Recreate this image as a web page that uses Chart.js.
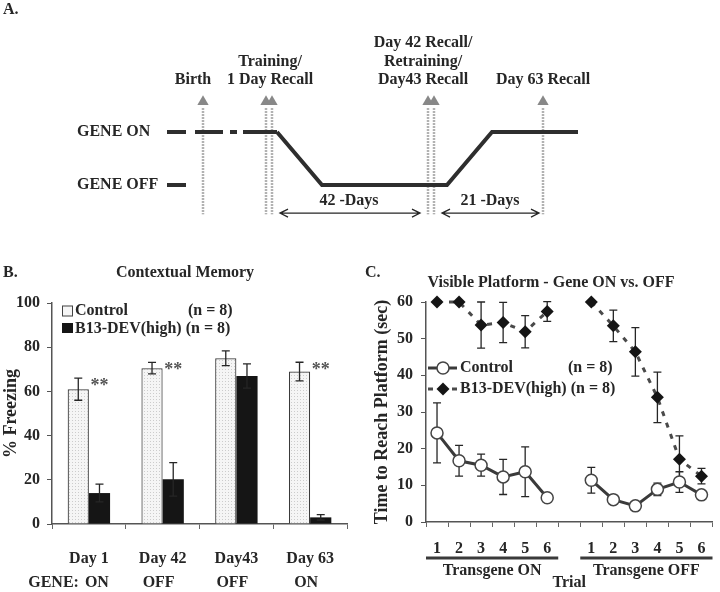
<!DOCTYPE html>
<html>
<head>
<meta charset="utf-8">
<script src="https://cdn.jsdelivr.net/npm/chart.js@4"></script>
<style>
  body { margin: 0; background: #fff; width: 720px; height: 592px; position: relative; overflow: hidden; }
  canvas { position: absolute; }
  #chartA { left: 0; top: 0; }
  #chartB { left: 0; top: 240px; }
  #chartC { left: 360px; top: 240px; }
</style>
</head>
<body>
<canvas id="chartA" width="720" height="240"></canvas>
<canvas id="chartB" width="360" height="352"></canvas>
<canvas id="chartC" width="360" height="352"></canvas>
<script>
// Figure: A. experiment timeline, B. contextual memory, C. visible platform

/* ---- Panel A data (schematic time course, arbitrary position units) ---- */
const geneLevels = ["GENE OFF", "GENE ON"];          // y = 0 / 1
const geneLineX = [110, 155, 280, 325, 411];
const geneLineY = [1, 0, 0, 1, 1];
const geneDashes = [[0, 19], [28, 56], [63, 70], [76, 110]];   // ON before training
const offDash = [[0, 19]];
const eventX = [36, 99, 105, 261, 267, 376];
const eventLabelX = [26, 103, 256, 376];
const eventLabelText = [
  ["Birth"],
  ["Training/", "1 Day Recall"],
  ["Day 42 Recall/", "Retraining/", "Day43 Recall"],
  ["Day 63 Recall"]
];
const intervalFrom = [113, 275];
const intervalTo = [253, 372];
const intervalLabels = ["42 -Days", "21 -Days"];
const intervalLabelX = [182, 323];

/* ---- Panel B data ---- */
const dayLabels = ["Day 1", "Day 42", "Day43", "Day 63"];
const geneState = ["ON", "OFF", "OFF", "ON"];
const controlFreeze = [61, 70.5, 75, 69];
const controlFreezeErr = [5, 2.6, 3.3, 4.2];
const b13Freeze = [14, 20.2, 67, 3];
const b13FreezeErr = [4, 7.6, 5.5, 1.2];
const freezeSig = ["**", "**", "", "**"];

/* ---- Panel C data ---- */
const trialLabels = ["1", "2", "3", "4", "5", "6", "", "1", "2", "3", "4", "5", "6"];
const trialGroups = ["Transgene ON", "Transgene OFF"];
const controlTimeOn = [24.3, 16.7, 15.5, 12.3, 13.7, 6.6];
const controlTimeOff = [11.4, 6.1, 4.4, 8.9, 10.9, 7.4];
const controlErrOn = [8.2, 4.2, 3.0, 4.8, 6.8, 1.0];
const controlErrOff = [3.5, 0.7, 0.8, 1.7, 2.8, 0.8];
const b13TimeOn = [60, 60, 53.7, 54.4, 51.9, 57.4];
const b13TimeOff = [60, 53.5, 46.4, 34, 17.1, 12.5];
const b13ErrOn = [0, 0, 6.3, 5.5, 4.4, 2.7];
const b13ErrOff = [0, 4.3, 6.6, 6.9, 6.4, 2.1];

const serif = '"Liberation Serif", "Times New Roman", serif';
const ink = "#262626";
Chart.defaults.font.family = serif;
Chart.defaults.font.weight = "bold";
Chart.defaults.font.size = 16;
Chart.defaults.color = ink;
Chart.defaults.animation = false;
Chart.defaults.plugins.legend.display = false;
Chart.defaults.plugins.tooltip.enabled = false;

function txt(ctx, s, x, y, align, size) {
  ctx.font = "bold " + (size || 16) + "px " + serif;
  ctx.textAlign = align || "center";
  ctx.textBaseline = "middle";
  ctx.fillText(s, x, y);
}

/* ================= Panel A ================= */
function segments(pairs, y) {
  const pts = [];
  pairs.forEach(([a, b]) => pts.push({ x: a, y }, { x: b, y }, { x: b, y: null }));
  return pts;
}
const eventTop = 1.45, eventBottom = -0.55, markY = 1.57;
const labelRowY = 1.98, arrowY = -0.53, intervalTextY = -0.29;

const timelineText = {
  id: "timelineText",
  afterDraw(chart) {
    const ctx = chart.ctx, xs = chart.scales.x, ys = chart.scales.y;
    ctx.save();
    ctx.fillStyle = ink;
    txt(ctx, "A.", 3, 10, "left");
    eventLabelText.forEach((lines, i) => {
      const px = xs.getPixelForValue(eventLabelX[i]);
      const base = ys.getPixelForValue(labelRowY);
      lines.forEach((t, j) => txt(ctx, t, px, base - (lines.length - 1 - j) * 18.5));
    });
    // interval arrows
    ctx.strokeStyle = ink;
    ctx.lineWidth = 1.3;
    const ay = ys.getPixelForValue(arrowY);
    intervalFrom.forEach((a, i) => {
      const x1 = xs.getPixelForValue(a), x2 = xs.getPixelForValue(intervalTo[i]);
      ctx.beginPath();
      ctx.moveTo(x1, ay); ctx.lineTo(x2, ay);
      ctx.moveTo(x1 + 8, ay - 4); ctx.lineTo(x1, ay); ctx.lineTo(x1 + 8, ay + 4);
      ctx.moveTo(x2 - 8, ay - 4); ctx.lineTo(x2, ay); ctx.lineTo(x2 - 8, ay + 4);
      ctx.stroke();
      txt(ctx, intervalLabels[i], xs.getPixelForValue(intervalLabelX[i]), ys.getPixelForValue(intervalTextY));
    });
    ctx.restore();
  }
};

new Chart(document.getElementById("chartA"), {
  type: "line",
  data: {
    datasets: [
      {
        data: geneLineX.map((x, i) => ({ x, y: geneLineY[i] })),
        borderColor: "#2e2e2e", borderWidth: 4, pointRadius: 0, clip: false
      },
      {
        data: segments(geneDashes, 1),
        borderColor: "#2e2e2e", borderWidth: 4, pointRadius: 0, spanGaps: false, clip: false
      },
      {
        data: segments(offDash, 0),
        borderColor: "#2e2e2e", borderWidth: 4, pointRadius: 0, clip: false
      },
      {
        data: eventX.map(x => ({ x, y: markY })),
        showLine: false, pointStyle: "triangle", pointRadius: 6.5,
        pointBackgroundColor: "#888", pointBorderWidth: 0, clip: false
      },
      {
        data: eventX.flatMap(x => [{ x, y: eventTop }, { x, y: eventBottom }, { x, y: null }]),
        borderColor: "#999", borderWidth: 2.5, borderDash: [1.5, 1.5],
        pointRadius: 0, spanGaps: false, clip: false
      }
    ]
  },
  options: {
    responsive: false,
    layout: { padding: { left: 77, right: 120, top: 26, bottom: 5 } },
    scales: {
      x: { type: "linear", min: 0, max: 433, display: false },
      y: {
        min: -0.8, max: 3,
        grid: { display: false },
        border: { display: false },
        afterBuildTicks: s => { s.ticks = [{ value: 0 }, { value: 1 }]; },
        afterFit: s => { s.width = 90; },
        ticks: { crossAlign: "far", callback: v => geneLevels[v], font: { size: 16 } }
      }
    }
  },
  plugins: [timelineText]
});

/* ================= Panel B ================= */
function stipple() {
  const c = document.createElement("canvas");
  c.width = 3; c.height = 3;
  const g = c.getContext("2d");
  g.fillStyle = "#f5f5f5"; g.fillRect(0, 0, 3, 3);
  g.fillStyle = "#cccccc"; g.fillRect(0, 0, 1, 1);
  return g.createPattern(c, "repeat");
}

const freezeExtras = {
  id: "freezeExtras",
  afterDatasetsDraw(chart) {
    const ctx = chart.ctx, ys = chart.scales.y, xs = chart.scales.x, area = chart.chartArea;
    const vals = [controlFreeze, b13Freeze], errs = [controlFreezeErr, b13FreezeErr];
    ctx.save();
    ctx.strokeStyle = ink;
    ctx.lineWidth = 1.3;
    [0, 1].forEach(d => {
      chart.getDatasetMeta(d).data.forEach((bar, i) => {
        const t = ys.getPixelForValue(vals[d][i] + errs[d][i]);
        const b = ys.getPixelForValue(vals[d][i] - errs[d][i]);
        ctx.beginPath();
        ctx.moveTo(bar.x, t); ctx.lineTo(bar.x, b);
        ctx.moveTo(bar.x - 4, t); ctx.lineTo(bar.x + 4, t);
        ctx.moveTo(bar.x - 4, b); ctx.lineTo(bar.x + 4, b);
        ctx.stroke();
      });
    });
    // significance stars above the B13 bars
    ctx.fillStyle = "#555";
    chart.getDatasetMeta(1).data.forEach((bar, i) => {
      if (!freezeSig[i]) return;
      const y = ys.getPixelForValue(controlFreeze[i] + controlFreezeErr[i]);
      ctx.font = "bold 18px " + serif;
      ctx.textAlign = "center";
      ctx.textBaseline = "alphabetic";
      ctx.fillText(freezeSig[i], bar.x, y + 13);
    });
    ctx.fillStyle = ink;
    txt(ctx, "B.", 3, 33, "left");
    txt(ctx, "Contextual Memory", 185, 33);
    // legend
    const lx = area.left + 10;
    ctx.fillStyle = "#f6f6f6"; ctx.strokeStyle = "#444"; ctx.lineWidth = 1;
    ctx.fillRect(lx, area.top + 2.5, 11, 11);
    ctx.strokeRect(lx + 0.5, area.top + 3, 10, 10);
    ctx.fillStyle = "#151515";
    ctx.fillRect(lx, area.top + 20, 11, 10);
    ctx.fillStyle = ink;
    txt(ctx, "Control", lx + 13, area.top + 8, "left");
    txt(ctx, "(n = 8)", lx + 126, area.top + 8, "left");
    txt(ctx, "B13-DEV(high) (n = 8)", lx + 13, area.top + 26, "left");
    // gene state row
    const rowY = area.bottom + 59;
    geneState.forEach((s, i) => txt(ctx, s, xs.getPixelForValue(i) + (i === 0 ? 8 : -4), rowY));
    const onLeft = xs.getPixelForValue(0) + 8 - ctx.measureText(geneState[0]).width / 2;
    txt(ctx, "GENE:", onLeft - 6, rowY, "right", 16);
    ctx.restore();
  }
};

new Chart(document.getElementById("chartB"), {
  type: "bar",
  data: {
    labels: dayLabels,
    datasets: [
      {
        label: "Control (n = 8)", data: controlFreeze,
        backgroundColor: stipple(), borderColor: "#3a3a3a", borderWidth: 1.2,
        categoryPercentage: 0.575, barPercentage: 1
      },
      {
        label: "B13-DEV(high) (n = 8)", data: b13Freeze,
        backgroundColor: "#151515", borderWidth: 0,
        categoryPercentage: 0.575, barPercentage: 1
      }
    ]
  },
  options: {
    responsive: false,
    layout: { padding: { left: 0, right: 13, top: 63, bottom: 0 } },
    scales: {
      x: {
        grid: { display: true, drawOnChartArea: false, tickLength: 5, color: "#666" },
        border: { color: "#555", width: 1.5 },
        afterFit: s => { s.height = 68; },
        ticks: { padding: 20, font: { size: 16 } }
      },
      y: {
        min: 0, max: 100,
        grid: { display: true, drawOnChartArea: false, tickLength: 5, color: "#555" },
        border: { color: "#555", width: 1.5 },
        afterFit: s => { s.width = 52; },
        ticks: { stepSize: 20, padding: 7, font: { size: 16 } },
        title: { display: true, text: "% Freezing", font: { size: 18 }, padding: { top: 1 } }
      }
    }
  },
  plugins: [freezeExtras]
});

/* ================= Panel C ================= */
const gap = [null];
const controlTime = controlTimeOn.concat(gap, controlTimeOff);
const controlErr = controlErrOn.concat(gap, controlErrOff);
const b13Time = b13TimeOn.concat(gap, b13TimeOff);
const b13Err = b13ErrOn.concat(gap, b13ErrOff);
const trialGroupRange = [[0, 5], [7, 12]];

const platformExtras = {
  id: "platformExtras",
  beforeDatasetsDraw(chart) {
    const ctx = chart.ctx, ys = chart.scales.y;
    const vals = [controlTime, b13Time], errs = [controlErr, b13Err];
    ctx.save();
    ctx.strokeStyle = ink;
    ctx.lineWidth = 1.3;
    [0, 1].forEach(d => {
      chart.getDatasetMeta(d).data.forEach((pt, i) => {
        if (vals[d][i] == null || !errs[d][i]) return;
        const t = ys.getPixelForValue(vals[d][i] + errs[d][i]);
        const b = ys.getPixelForValue(vals[d][i] - errs[d][i]);
        ctx.beginPath();
        ctx.moveTo(pt.x, t); ctx.lineTo(pt.x, b);
        ctx.moveTo(pt.x - 4, t); ctx.lineTo(pt.x + 4, t);
        ctx.moveTo(pt.x - 4, b); ctx.lineTo(pt.x + 4, b);
        ctx.stroke();
      });
    });
    ctx.restore();
  },
  afterDraw(chart) {
    const ctx = chart.ctx, xs = chart.scales.x, area = chart.chartArea;
    ctx.save();
    ctx.fillStyle = ink;
    txt(ctx, "C.", 5, 33, "left");
    txt(ctx, "Visible Platform - Gene ON vs. OFF", 191, 43);
    // trial group underlines
    const half = (xs.getPixelForValue(1) - xs.getPixelForValue(0)) / 2;
    ctx.strokeStyle = "#3a3a3a";
    ctx.lineWidth = 3;
    trialGroupRange.forEach(([a, b], i) => {
      const x1 = xs.getPixelForValue(a) - half, x2 = xs.getPixelForValue(b) + half;
      ctx.beginPath();
      ctx.moveTo(x1, area.bottom + 36); ctx.lineTo(x2, area.bottom + 36);
      ctx.stroke();
      txt(ctx, trialGroups[i], (x1 + x2) / 2, area.bottom + 49);
    });
    // legend
    const lx = area.left, y1 = area.top + 66, y2 = area.top + 87;
    ctx.strokeStyle = "#3a3a3a";
    ctx.lineWidth = 3;
    ctx.beginPath(); ctx.moveTo(lx + 2, y1); ctx.lineTo(lx + 31, y1); ctx.stroke();
    ctx.fillStyle = "#fff"; ctx.lineWidth = 1.5; ctx.strokeStyle = "#444";
    ctx.beginPath(); ctx.arc(lx + 17, y1, 6, 0, Math.PI * 2); ctx.fill(); ctx.stroke();
    ctx.strokeStyle = "#4a4a4a"; ctx.lineWidth = 3; ctx.setLineDash([5, 7]);
    ctx.beginPath(); ctx.moveTo(lx + 2, y2); ctx.lineTo(lx + 31, y2); ctx.stroke();
    ctx.setLineDash([]);
    ctx.fillStyle = "#151515";
    ctx.beginPath();
    ctx.moveTo(lx + 17, y2 - 6.5); ctx.lineTo(lx + 23.5, y2);
    ctx.lineTo(lx + 17, y2 + 6.5); ctx.lineTo(lx + 10.5, y2); ctx.closePath(); ctx.fill();
    ctx.fillStyle = ink;
    txt(ctx, "Control", lx + 34, y1, "left");
    txt(ctx, "(n = 8)", lx + 142, y1, "left");
    txt(ctx, "B13-DEV(high) (n = 8)", lx + 34, y2, "left");
    ctx.restore();
  }
};

new Chart(document.getElementById("chartC"), {
  type: "line",
  data: {
    labels: trialLabels,
    datasets: [
      {
        label: "Control (n = 8)", data: controlTime,
        borderColor: "#3a3a3a", borderWidth: 3, spanGaps: false, clip: false,
        pointStyle: "circle", pointRadius: 6, pointBackgroundColor: "#fff",
        pointBorderColor: "#444", pointBorderWidth: 1.5
      },
      {
        label: "B13-DEV(high) (n = 8)", data: b13Time,
        borderColor: "#4a4a4a", borderWidth: 3, borderDash: [5, 7], spanGaps: false, clip: false,
        pointStyle: "rectRot", pointRadius: 6.5, pointBackgroundColor: "#151515",
        pointBorderWidth: 0
      }
    ]
  },
  options: {
    responsive: false,
    layout: { padding: { left: 0, right: 3, top: 62, bottom: 0 } },
    scales: {
      x: {
        offset: true,
        grid: { display: true, offset: true, drawOnChartArea: false, tickLength: 5, color: "#666" },
        border: { color: "#555", width: 1.5 },
        afterFit: s => { s.height = 70; },
        ticks: { padding: 12, autoSkip: false, maxRotation: 0, font: { size: 16 } },
        title: { display: true, text: "Trial", font: { size: 16 }, padding: { top: 0, bottom: 0 } }
      },
      y: {
        min: 0, max: 60,
        grid: { display: true, drawOnChartArea: false, tickLength: 5, color: "#555" },
        border: { color: "#555", width: 1.5 },
        afterFit: s => { s.width = 66; },
        ticks: { stepSize: 10, padding: 8, font: { size: 16 } },
        title: { display: true, text: "Time to Reach Platform (sec)", font: { size: 18 }, padding: { top: 12 } }
      }
    }
  },
  plugins: [platformExtras]
});
</script>
</body>
</html>
